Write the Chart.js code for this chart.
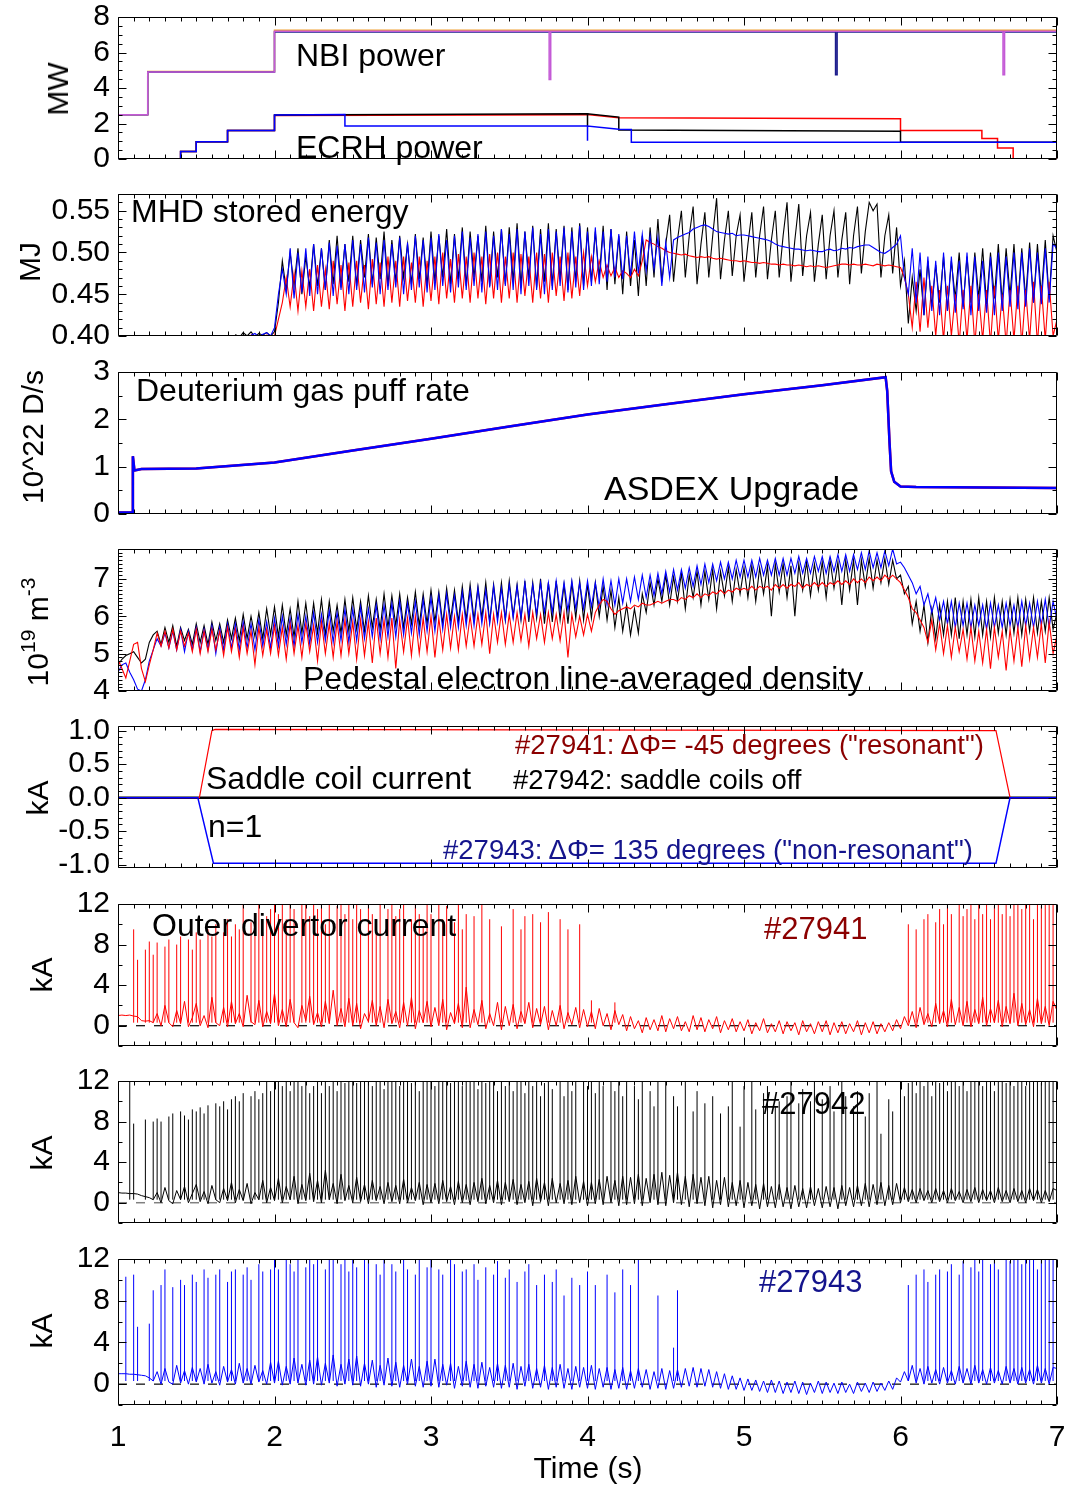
<!DOCTYPE html>
<html>
<head>
<meta charset="utf-8">
<title>ASDEX Upgrade #27941-27943</title>
<script src="https://cdn.jsdelivr.net/npm/chart.js@4.4.1/dist/chart.umd.min.js"></script>
<style>
html,body{margin:0;padding:0;background:#fff;}
body{position:relative;width:1068px;height:1486px;overflow:hidden;font-family:"Liberation Sans",Arial,Helvetica,sans-serif;}
canvas{position:absolute;left:0;}
.lbl{position:absolute;white-space:nowrap;line-height:1;color:#000;transform:translateY(-50%);z-index:5;}
.ytl{position:absolute;white-space:nowrap;line-height:1;color:#000;transform:translate(-50%,-50%) rotate(-90deg);z-index:5;font-size:30px;}
.ytl sup{font-size:21px;vertical-align:baseline;position:relative;top:-13px;}
</style>
</head>
<body>
<div class="lbl" style="left:296px;top:55px;font-size:32px">NBI power</div>
<div class="lbl" style="left:296px;top:147px;font-size:32px">ECRH power</div>
<div class="lbl" style="left:131px;top:211px;font-size:32px">MHD stored energy</div>
<div class="lbl" style="left:136px;top:390px;font-size:32px">Deuterium gas puff rate</div>
<div class="lbl" style="left:604px;top:488px;font-size:34px">ASDEX Upgrade</div>
<div class="lbl" style="left:303px;top:678px;font-size:32px">Pedestal electron line-averaged density</div>
<div class="lbl" style="left:515px;top:745px;font-size:27.5px;color:#8b0000">#27941: ΔΦ= -45 degrees ("resonant")</div>
<div class="lbl" style="left:206px;top:778px;font-size:32px">Saddle coil current</div>
<div class="lbl" style="left:513px;top:780px;font-size:27.5px">#27942: saddle coils off</div>
<div class="lbl" style="left:208px;top:826px;font-size:32px">n=1</div>
<div class="lbl" style="left:443px;top:850px;font-size:27.5px;color:#14148c">#27943: ΔΦ= 135 degrees ("non-resonant")</div>
<div class="lbl" style="left:152px;top:925px;font-size:32px">Outer divertor current</div>
<div class="lbl" style="left:764px;top:928px;font-size:31px;color:#8b0000">#27941</div>
<div class="lbl" style="left:762px;top:1103px;font-size:31px">#27942</div>
<div class="lbl" style="left:759px;top:1281px;font-size:31px;color:#14148c">#27943</div>
<div class="lbl" style="left:588px;top:1468px;font-size:30px;transform:translate(-50%,-50%)">Time (s)</div>

<div class="ytl" style="left:58px;top:89px">MW</div>
<div class="ytl" style="left:30px;top:262px">MJ</div>
<div class="ytl" style="left:33px;top:437px">10^22 D/s</div>
<div class="ytl" style="left:38px;top:632px">10<sup>19</sup> m<sup>-3</sup></div>
<div class="ytl" style="left:38px;top:798px">kA</div>
<div class="ytl" style="left:42px;top:975px">kA</div>
<div class="ytl" style="left:42px;top:1153px">kA</div>
<div class="ytl" style="left:42px;top:1331px">kA</div>

<script>
// ---------------- DATA ----------------
const timeTicks = [1, 2, 3, 4, 5, 6, 7];

// Panel 1: NBI power (MW), step traces
const nbiPurpleT = [1.0, 1.19, 2.0, 3.755, 3.765, 6.655, 6.665, 7.0];
const nbiPurpleV = [2.5, 4.9, 7.2, 4.48, 7.2, 4.74, 7.2, 7.2];
const nbiNavyT = [1.0, 1.19, 2.0, 5.585, 5.595, 7.0];
const nbiNavyV = [2.5, 4.9, 7.15, 4.74, 7.15, 7.15];
const nbiOrangeT = [1.0, 1.19, 2.0, 7.0];
const nbiOrangeV = [2.5, 4.93, 7.25, 7.25];
// Panel 1: ECRH power (MW)
const ecrhRedT = [1.0, 1.40, 1.40, 1.50, 1.50, 1.70, 1.70, 2.00, 2.00, 4.00, 4.20, 6.00, 6.00, 6.52, 6.52, 6.62, 6.62, 6.72, 6.72, 7.0];
const ecrhRedV = [0, 0, 0.42, 0.42, 0.97, 0.97, 1.6, 1.6, 2.45, 2.5, 2.32, 2.27, 1.6, 1.6, 1.15, 1.15, 0.62, 0.62, 0, 0];
const ecrhBlackT = [1.0, 1.40, 1.40, 1.50, 1.50, 1.70, 1.70, 2.00, 2.00, 4.00, 4.00, 4.00, 4.20, 4.20, 6.00, 6.00, 7.0];
const ecrhBlackV = [0, 0, 0.42, 0.42, 0.97, 0.97, 1.6, 1.6, 2.48, 2.55, 1.86, 2.55, 2.36, 1.63, 1.56, 0.94, 0.94];
const ecrhBlueT = [1.0, 1.40, 1.40, 1.50, 1.50, 1.70, 1.70, 2.00, 2.00, 2.45, 2.45, 4.00, 4.00, 4.00, 4.20, 4.28, 4.28, 7.0];
const ecrhBlueV = [0, 0, 0.42, 0.42, 0.97, 0.97, 1.6, 1.6, 2.48, 2.5, 1.86, 1.86, 1.03, 1.86, 1.68, 1.66, 0.94, 0.94];

// Panel 2: MHD stored energy (MJ), samples every 0.025 s from 1.75 s
const wT0 = 1.75, wDT = 0.025;
const wBlack = [
 0.402,0.398,0.404,0.400,0.405,0.399,0.403,0.401,0.404,0.400,
 0.405,0.44,0.49,0.455,0.50,0.46,0.505,0.45,0.495,0.458,
 0.51,0.46,0.505,0.455,0.515,0.462,0.52,0.458,0.51,0.465,
 0.52,0.46,0.515,0.47,0.522,0.462,0.518,0.468,0.525,0.46,
 0.515,0.465,0.52,0.47,0.51,0.462,0.522,0.468,0.518,0.46,
 0.525,0.465,0.52,0.47,0.528,0.462,0.522,0.468,0.53,0.46,
 0.525,0.47,0.52,0.465,0.532,0.46,0.525,0.47,0.528,0.462,
 0.53,0.465,0.535,0.46,0.525,0.47,0.532,0.458,0.528,0.465,
 0.535,0.46,0.528,0.468,0.532,0.455,0.53,0.465,0.535,0.46,
 0.53,0.465,0.525,0.47,0.532,0.455,0.528,0.462,0.52,0.45,
 0.525,0.46,0.515,0.448,0.52,0.46,0.53,0.47,0.54,0.465,
 0.51,0.545,0.465,0.515,0.55,0.47,0.52,0.555,0.462,0.51,
 0.548,0.47,0.52,0.565,0.468,0.515,0.55,0.472,0.52,0.545,
 0.465,0.51,0.548,0.47,0.52,0.555,0.468,0.515,0.55,0.47,
 0.52,0.56,0.465,0.515,0.558,0.472,0.52,0.548,0.465,0.51,
 0.545,0.468,0.52,0.55,0.47,0.515,0.548,0.462,0.52,0.555,
 0.475,0.525,0.56,0.55,0.558,0.47,0.52,0.545,0.475,0.53,
 0.46,0.49,0.415,0.47,0.43,0.48,0.425,0.49,0.435,0.485,
 0.44,0.495,0.43,0.49,0.445,0.5,0.435,0.495,0.44,0.5,
 0.445,0.505,0.438,0.5,0.445,0.51,0.44,0.505,0.448,0.51,
 0.44,0.505,0.445,0.512,0.44,0.51,0.448,0.515,0.445,0.52,0.5];
const wBlue = [
 null,null,null,null,0.401,0.403,0.399,0.402,0.404,0.40,
 0.41,0.45,0.48,0.45,0.505,0.445,0.50,0.452,0.505,0.448,
 0.51,0.45,0.505,0.455,0.512,0.448,0.508,0.455,0.51,0.45,
 0.515,0.455,0.51,0.452,0.518,0.458,0.512,0.45,0.515,0.455,
 0.51,0.458,0.518,0.45,0.512,0.455,0.52,0.458,0.515,0.452,
 0.518,0.455,0.522,0.46,0.515,0.452,0.52,0.458,0.525,0.455,
 0.518,0.46,0.522,0.452,0.525,0.458,0.52,0.455,0.528,0.46,
 0.522,0.455,0.528,0.45,0.525,0.46,0.53,0.455,0.522,0.45,
 0.528,0.455,0.525,0.46,0.53,0.452,0.525,0.458,0.532,0.455,
 0.525,0.46,0.53,0.462,0.525,0.465,0.528,0.47,0.522,0.468,
 0.52,0.472,0.525,0.475,0.522,0.478,0.52,0.48,0.518,0.46,
 0.512,0.47,0.515,0.518,0.52,0.522,0.524,0.528,0.53,0.532,
 0.533,0.531,0.528,0.525,0.524,0.523,0.522,0.523,0.52,0.521,
 0.521,0.52,0.519,0.518,0.517,0.516,0.515,0.513,0.51,0.508,
 0.507,0.506,0.505,0.504,0.504,0.503,0.502,0.503,0.502,0.501,
 0.501,0.503,0.504,0.502,0.503,0.505,0.504,0.506,0.505,0.507,
 0.508,0.509,0.509,0.506,0.503,0.5,0.499,0.502,0.506,0.51,
 0.52,0.47,0.45,0.505,0.44,0.5,0.425,0.495,0.43,0.49,
 0.425,0.5,0.43,0.495,0.428,0.49,0.432,0.5,0.425,0.495,
 0.43,0.49,0.428,0.495,0.425,0.5,0.43,0.495,0.435,0.5,
 0.432,0.5,0.435,0.505,0.44,0.5,0.438,0.505,0.44,0.51,0.505];
const wRed = [
 null,null,null,null,0.402,0.398,0.40,0.399,0.401,0.40,
 0.40,0.42,0.44,0.47,0.435,0.475,0.43,0.478,0.435,0.48,
 0.43,0.485,0.435,0.48,0.432,0.49,0.438,0.485,0.43,0.488,
 0.435,0.49,0.44,0.485,0.432,0.492,0.438,0.488,0.435,0.495,
 0.44,0.49,0.435,0.495,0.442,0.488,0.44,0.495,0.435,0.49,
 0.442,0.495,0.438,0.5,0.445,0.492,0.44,0.498,0.445,0.495,
 0.44,0.5,0.445,0.495,0.438,0.498,0.445,0.5,0.44,0.495,
 0.445,0.5,0.44,0.498,0.448,0.495,0.44,0.5,0.445,0.498,
 0.44,0.5,0.448,0.495,0.442,0.5,0.445,0.495,0.448,0.5,
 0.46,0.495,0.465,0.49,0.47,0.485,0.472,0.482,0.47,0.478,
 0.475,0.47,0.48,0.472,0.49,0.515,0.512,0.51,0.507,0.505,
 0.502,0.5,0.499,0.498,0.497,0.498,0.496,0.495,0.494,0.495,
 0.494,0.495,0.493,0.492,0.493,0.492,0.491,0.49,0.49,0.489,
 0.49,0.489,0.488,0.488,0.487,0.488,0.487,0.486,0.486,0.485,
 0.486,0.485,0.485,0.484,0.485,0.484,0.483,0.484,0.483,0.484,
 0.483,0.482,0.483,0.484,0.485,0.486,0.486,0.485,0.486,0.485,
 0.485,0.486,0.485,0.484,0.486,0.485,0.484,0.485,0.484,0.483,
 0.482,0.47,0.45,0.41,0.465,0.405,0.47,0.41,0.46,0.4,
 0.455,0.395,0.46,0.4,0.45,0.39,0.455,0.395,0.46,0.39,
 0.45,0.395,0.455,0.39,0.46,0.395,0.45,0.39,0.455,0.395,
 0.46,0.39,0.455,0.395,0.465,0.39,0.46,0.395,0.465,0.4,0.42];

// Panel 3: deuterium gas puff rate (10^22 D/s)
const gasT = [1.0,1.09,1.095,1.105,1.15,1.5,2.0,2.5,3.0,3.5,4.0,4.5,5.0,5.5,5.905,5.915,5.93,5.94,5.96,6.0,6.1,7.0];
const gasV = [0.03,0.03,1.22,0.92,0.95,0.96,1.09,1.34,1.59,1.85,2.10,2.32,2.53,2.72,2.89,2.6,1.5,0.9,0.68,0.58,0.57,0.55];

// Panel 4: pedestal line-averaged density (1e19 m^-3), samples every 0.025 s from 1.0 s
const nT0 = 1.0, nDT = 0.025;
const nBlack = [
 4.7,4.85,4.95,5.0,5.05,4.9,4.75,4.85,5.3,5.5,
 5.6,5.25,5.7,5.3,5.75,5.2,5.7,5.35,5.65,5.25,
 5.8,5.3,5.75,5.25,5.85,5.35,5.8,5.3,5.9,5.4,
 5.95,5.35,6.05,5.4,6.0,5.45,6.1,5.4,6.2,5.5,
 6.25,5.45,6.3,5.5,6.2,5.45,6.4,5.55,6.35,5.5,
 6.35,5.55,6.45,5.5,6.4,5.6,6.3,5.55,6.45,5.6,
 6.5,5.65,6.4,5.6,6.55,5.7,6.45,5.65,6.6,5.7,
 6.55,5.75,6.6,5.7,6.5,5.8,6.65,5.75,6.6,5.8,
 6.7,5.85,6.65,5.8,6.75,5.9,6.7,5.85,6.8,5.9,
 6.85,5.9,6.8,5.95,6.9,5.85,6.85,5.95,6.9,5.9,
 6.95,6.0,6.85,5.9,6.95,5.85,6.9,5.95,7.0,5.8,
 6.9,5.85,6.95,5.9,6.85,5.8,6.9,5.95,6.95,5.9,
 6.85,5.95,6.9,6.0,6.8,5.9,6.7,5.7,6.5,5.6,
 6.3,5.5,6.2,5.55,6.6,6.1,6.9,6.3,7.0,6.4,
 7.1,6.3,7.05,6.4,7.15,6.2,7.1,6.5,7.2,6.3,
 7.2,6.45,7.25,6.2,7.2,6.55,7.3,6.4,7.25,6.6,
 7.3,6.5,7.35,6.4,7.3,6.6,7.35,6.0,7.4,6.65,
 7.4,6.5,7.35,6.0,7.4,6.7,7.45,6.55,7.4,6.7,
 7.45,6.5,7.5,6.75,7.45,6.3,7.5,6.7,7.5,6.3,
 7.5,6.8,7.55,6.75,7.5,6.9,7.55,6.85,7.5,7.0,
 7.1,6.6,6.8,5.8,6.4,5.6,6.3,5.3,6.2,5.4,
 6.3,5.5,6.4,5.5,6.5,5.4,6.4,5.5,6.45,5.45,
 6.5,5.5,6.4,5.45,6.5,5.55,6.4,5.5,6.45,5.55,
 6.5,5.5,6.45,5.6,6.5,5.55,6.4,5.6,6.5,5.65,6.1];
const nBlue = [
 4.5,4.7,4.75,4.5,4.3,4.05,4.0,4.3,4.8,5.1,
 5.4,5.2,5.55,5.15,5.6,5.1,5.65,5.05,5.6,5.1,
 5.7,5.05,5.65,5.1,5.75,5.0,5.7,5.1,5.8,5.15,
 5.8,5.1,5.85,5.15,5.8,5.1,5.9,5.2,5.85,5.15,
 5.95,5.2,6.0,5.25,5.95,5.2,6.05,5.3,6.0,5.25,
 6.1,5.3,6.05,5.35,6.15,5.3,6.1,5.35,6.2,5.3,
 6.2,5.35,6.25,5.4,6.2,5.45,6.3,5.4,6.3,5.45,
 6.35,5.45,6.4,5.5,6.35,5.55,6.4,5.5,6.45,5.6,
 6.5,5.6,6.55,5.65,6.6,5.7,6.55,5.7,6.65,5.75,
 6.7,5.75,6.75,5.8,6.7,5.8,6.8,5.85,6.75,5.9,
 6.85,5.95,6.8,5.95,6.9,6.0,6.85,6.05,6.9,6.1,
 6.9,6.1,6.95,6.15,6.9,6.15,6.95,6.2,6.9,6.2,
 6.95,6.25,6.9,6.25,7.0,6.3,6.95,6.3,7.0,6.35,
 7.0,6.4,7.05,6.45,7.1,6.5,7.1,6.55,7.15,6.6,
 7.2,6.65,7.25,6.7,7.25,6.75,7.3,6.8,7.35,6.85,
 7.4,6.9,7.4,6.95,7.45,7.0,7.45,7.0,7.5,7.05,
 7.5,7.05,7.5,7.05,7.55,7.1,7.5,7.1,7.55,7.1,
 7.55,7.1,7.55,7.15,7.6,7.15,7.55,7.15,7.6,7.2,
 7.6,7.15,7.6,7.2,7.65,7.2,7.65,7.2,7.65,7.25,
 7.7,7.25,7.75,7.3,7.7,7.3,7.75,7.35,7.8,7.4,
 7.45,7.3,7.1,6.9,6.6,6.8,6.3,6.6,6.1,6.5,
 5.9,6.4,5.8,6.4,5.7,6.35,5.75,6.35,5.7,6.3,
 5.75,6.3,5.65,6.35,5.7,6.3,5.7,6.35,5.75,6.3,
 5.7,6.4,5.75,6.35,5.7,6.4,5.75,6.45,5.7,6.4,5.9];
const nRed = [
 4.85,4.6,4.35,4.8,5.25,5.3,4.6,4.25,4.7,5.1,
 5.55,5.2,5.6,5.15,5.65,5.1,5.6,5.2,5.55,5.05,
 5.65,5.0,5.6,5.05,5.65,5.1,5.6,4.95,5.7,5.05,
 5.65,4.9,5.7,5.0,5.6,4.7,5.7,4.95,5.65,5.0,
 5.75,4.95,5.7,4.85,5.8,5.0,5.75,4.9,5.8,5.05,
 5.75,4.8,5.85,5.0,5.8,4.9,5.85,4.95,5.9,5.0,
 5.85,4.85,5.9,4.95,5.85,4.75,5.95,5.0,5.9,4.9,
 5.95,4.6,5.9,5.05,5.95,4.95,6.0,5.0,5.95,5.05,
 6.0,4.9,5.95,5.1,6.05,5.15,6.0,5.1,6.05,5.2,
 6.0,5.2,6.05,5.25,6.1,5.0,6.05,5.3,6.1,5.25,
 6.05,5.3,6.1,5.35,6.05,5.2,6.1,5.4,6.05,5.3,
 6.1,5.4,6.05,5.35,6.1,4.9,6.05,5.45,6.0,5.5,
 6.05,5.6,6.1,6.3,6.45,6.4,6.2,6.05,6.15,6.2,
 6.25,6.2,6.3,6.25,6.35,6.3,6.3,6.35,6.4,6.35,
 6.4,6.45,6.45,6.4,6.5,6.45,6.55,6.5,6.6,6.5,
 6.6,6.55,6.65,6.6,6.7,6.6,6.7,6.65,6.75,6.7,
 6.75,6.7,6.8,6.7,6.8,6.75,6.8,6.7,6.85,6.75,
 6.85,6.75,6.85,6.8,6.9,6.75,6.85,6.8,6.9,6.8,
 6.9,6.8,6.9,6.85,6.95,6.85,6.95,6.85,7.0,6.9,
 7.0,6.9,7.05,6.95,7.05,6.95,7.1,7.0,7.1,7.0,
 6.9,6.7,6.5,6.2,6.1,5.9,5.7,5.3,5.9,5.1,
 5.8,5.0,5.75,4.9,5.7,5.05,5.65,4.85,5.7,4.8,
 5.6,4.75,5.65,4.6,5.7,4.9,5.6,4.55,5.65,4.8,
 5.7,4.65,5.75,4.85,5.7,4.9,5.8,4.75,5.85,5.0,5.5];

// Panel 5: saddle coil current (kA)
const coilRedT = [1.0, 1.52, 1.60, 1.62, 6.61, 6.70, 7.0];
const coilRedV = [0, 0, 1.0, 1.02, 1.0, 0, 0];
const coilBlueT = [1.0, 1.51, 1.61, 6.61, 6.70, 7.0];
const coilBlueV = [0, 0, -0.98, -0.98, 0, 0];
const coilBlackT = [1.0, 7.0];
const coilBlackV = [0, 0];

// Panels 6-8: outer divertor current (kA)
// background level every 0.025 s from 1.0 s
const dT0 = 1.0, dDT = 0.025;
const div41Base = [
 1.0,1.05,1.0,1.05,0.95,0.9,0.5,0.45,0.5,0.3,
 1.2,0.0,2.0,0.3,-0.1,1.5,0.2,2.4,-0.1,0.8,
 2.2,0.0,1.0,-0.2,2.8,0.3,0.0,1.8,-0.1,2.4,
 0.2,1.2,-0.1,3.0,0.4,0.1,2.5,-0.1,1.4,0.2,
 3.2,0.0,1.6,-0.1,2.6,0.3,-0.2,2.0,0.5,2.9,
 0.1,1.3,-0.1,2.4,0.2,3.5,0.0,1.7,-0.1,2.7,
 0.0,2.2,-0.3,1.2,0.4,2.5,0.0,1.9,-0.2,2.6,
 0.2,1.4,-0.2,2.3,0.0,2.8,-0.3,1.5,0.3,2.4,
 -0.1,1.8,0.0,2.6,-0.4,1.3,0.2,2.2,-0.2,3.8,
 -0.2,1.6,0.1,2.5,-0.3,1.2,0.0,2.3,-0.4,1.9,
 0.0,2.1,-0.3,1.4,0.2,2.3,-0.2,1.7,0.1,1.9,
 -0.4,1.5,0.0,2.0,-0.3,1.3,0.1,1.8,-0.2,1.6,
 -0.1,1.4,-0.3,1.7,0.0,1.2,-0.4,1.5,0.1,1.1,
 -0.5,0.9,-0.3,0.5,-0.7,0.8,-0.4,0.6,-0.5,1.0,
 -0.6,0.7,-0.3,0.9,-0.5,0.4,-0.6,1.0,-0.4,0.8,
 -0.6,0.6,-0.3,0.9,-0.7,0.5,-0.4,0.7,-0.6,0.4,
 -0.5,0.6,-0.8,0.3,-0.5,0.7,-0.7,0.2,-0.6,0.5,
 -0.8,0.4,-0.5,0.3,-0.9,0.5,-0.6,0.2,-0.8,0.4,
 -0.6,0.5,-0.9,0.3,-0.7,0.4,-0.8,0.2,-0.6,0.5,
 -0.9,0.3,-0.7,0.4,-0.8,0.2,-0.6,0.3,-0.5,0.6,
 -0.3,0.9,0.0,1.4,-0.2,1.8,0.1,1.2,-0.1,2.2,
 0.2,1.5,-0.1,2.6,0.1,1.8,0.0,2.4,-0.1,1.6,
 0.2,2.8,0.0,1.7,0.3,2.5,-0.1,1.9,0.2,3.2,
 0.0,2.2,0.1,1.6,-0.1,2.7,0.2,1.9,0.0,2.4,1.5];
const div42Base = [
 1.0,0.95,0.95,0.9,0.9,0.85,0.7,0.6,0.5,0.3,
 1.0,0.0,1.5,0.2,-0.1,1.2,0.3,1.6,0.0,0.9,
 1.8,0.1,1.1,-0.1,1.7,0.3,0.0,1.4,0.2,2.0,
 0.0,1.3,0.2,1.9,-0.1,1.0,0.3,2.2,0.0,1.5,
 0.2,2.4,0.0,1.6,0.3,2.6,-0.1,1.8,0.2,2.9,
 0.1,2.2,0.0,3.2,0.3,1.9,-0.1,2.8,0.2,1.7,
 0.0,2.5,0.1,1.8,-0.1,2.2,0.2,1.6,-0.1,2.0,
 0.1,1.7,-0.1,2.3,0.0,1.5,0.2,2.0,-0.2,1.8,
 0.0,1.9,-0.1,2.2,0.1,1.6,-0.2,2.1,0.0,1.8,
 -0.2,2.0,0.1,2.4,-0.1,1.7,0.0,2.2,-0.2,2.0,
 0.1,2.3,-0.2,1.8,0.0,2.1,-0.3,2.4,0.1,2.0,
 -0.3,2.4,0.0,1.9,-0.1,2.2,-0.2,2.6,0.0,2.1,
 -0.3,2.0,-0.1,2.3,-0.2,2.6,0.0,2.2,-0.3,2.6,
 -0.2,2.5,-0.1,2.8,-0.3,2.4,0.0,2.8,-0.2,3.0,
 -0.3,2.7,0.0,3.0,-0.2,2.6,-0.4,2.8,-0.1,2.5,
 -0.3,2.6,-0.5,2.2,-0.2,2.5,-0.4,2.0,-0.3,2.2,
 -0.5,2.0,-0.3,1.8,-0.6,1.9,-0.4,1.6,-0.5,1.8,
 -0.4,1.5,-0.6,1.7,-0.4,1.4,-0.5,1.6,-0.3,1.4,
 -0.5,1.6,-0.4,1.5,-0.6,1.7,-0.3,1.5,-0.4,1.7,
 -0.3,1.9,-0.4,1.8,-0.2,2.0,-0.3,1.7,-0.2,1.9,
 0.0,1.5,0.1,1.3,0.0,1.4,0.2,1.2,0.0,1.4,
 0.1,1.2,0.0,1.4,0.2,1.1,0.0,1.3,0.1,1.5,
 0.0,1.3,0.2,1.2,0.0,1.5,0.1,1.2,0.0,1.4,
 0.1,1.2,0.0,1.4,0.2,1.3,0.0,1.2,0.1,1.4,1.2];
const div43Base = [
 1.0,1.0,1.0,0.95,0.95,0.9,0.85,0.8,0.6,0.3,
 1.2,0.0,1.5,0.2,0.0,1.8,0.1,1.3,0.0,1.6,
 0.2,1.5,0.0,1.9,0.1,1.2,-0.1,1.7,0.2,1.4,
 0.0,2.0,0.1,1.5,0.0,1.8,0.2,1.3,0.0,2.1,
 0.1,2.2,-0.1,1.7,0.0,2.5,0.1,1.9,-0.1,2.3,
 0.0,2.6,-0.1,2.0,0.1,2.8,-0.2,1.9,0.0,2.4,
 -0.1,2.7,-0.2,2.0,0.0,2.3,-0.3,1.8,-0.1,2.5,
 -0.2,2.1,-0.3,1.8,0.0,2.4,-0.2,1.7,-0.3,2.2,
 -0.2,2.4,-0.3,1.9,-0.1,2.0,-0.4,1.7,-0.2,2.2,
 -0.3,1.9,-0.4,2.1,-0.2,1.6,-0.3,2.0,-0.4,1.8,
 -0.3,2.0,-0.5,1.7,-0.2,1.9,-0.4,1.5,-0.3,1.8,
 -0.5,1.6,-0.3,1.9,-0.4,1.5,-0.5,1.7,-0.3,1.6,
 -0.4,1.8,-0.5,1.5,-0.3,1.6,-0.5,1.4,-0.4,1.6,
 -0.5,1.3,-0.4,1.5,-0.3,1.4,-0.5,1.2,-0.4,1.5,
 -0.5,1.3,-0.4,1.4,-0.3,1.5,-0.2,1.6,-0.3,1.5,
 -0.2,1.4,-0.3,1.2,-0.4,1.0,-0.5,0.8,-0.5,0.6,
 -0.6,0.5,-0.6,0.4,-0.7,0.3,-0.8,0.4,-0.8,0.3,
 -0.9,0.2,-0.8,0.3,-0.9,0.2,-1.0,0.1,-0.8,0.3,
 -0.9,0.2,-0.8,0.1,-0.9,0.2,-0.8,0.0,-0.9,0.2,
 -0.7,0.1,-0.8,0.2,-0.7,0.1,-0.6,0.3,-0.5,0.6,
 0.2,1.2,0.3,1.8,0.1,1.5,0.0,1.7,0.1,1.4,
 0.0,1.6,0.1,1.3,0.0,1.7,0.1,1.5,0.0,1.8,
 0.1,1.4,0.0,1.6,0.1,1.3,0.0,1.7,0.1,1.5,
 0.0,1.6,0.1,1.4,0.0,1.8,0.1,1.5,0.0,1.6,1.5];
// ELM spike peaks, one slot per 0.025 s from 1.0 s (0 = no ELM)
const eT0 = 1.0, eDT = 0.025;
const elm41 = [
 8.5,0,0,0,9.5,6.5,0,7.5,8.3,7.0,   8.2,0,7.8,8.5,0,8.0,8.8,0,8.5,7.5,
 9.2,8.5,0,9.5,8.8,10,0,9.2,10.5,8.8, 10,9.5,12.5,0,10.2,9.8,12.5,9.2,10.8,11.5,
 12.5,11,12.5,10.5,12.5,11.5,0,12.5,12,10.8, 12.5,11.5,12.5,10,12.5,0,11.8,12.5,11,12.5,
 10.5,12.5,11.5,0,12.5,11,10.2,12.5,0,11.5, 12.5,10.8,11.5,12.5,0,10.5,12,11,9.8,12.5,
 11,0,12.5,10.5,11.8,0,10.2,12.5,9.5,11, 0,10.8,0,12,0,10.5,0,0,9.8,0,
 0,11.5,0,9.5,10.8,0,11,0,10.2,0, 11.2,0,0,10.5,0,9.5,0,0,10,0,
 0,2.5,0,0,0,0,0,2.3,0,0, 0,0,0,0,0,0,0,0,0,0,
 0,0,0,0,0,0,0,0,0,0, 0,0,0,0,0,0,0,0,0,0,
 0,0,0,0,0,0,0,0,0,0, 0,0,0,0,0,0,0,0,0,0,
 0,0,0,0,0,0,0,0,0,0, 0,0,0,0,0,0,0,0,0,0,
 0,0,10,0,9.5,0,10.5,11,0,10.2, 11.5,10,12,11,0,12.5,10.8,11.5,12.5,10.5,
 12,11,12.5,10.5,11.8,12.5,11,12.5,10.8,12, 12.5,11.5,12,12.5,10.5,12.5,11.8,12.5,12,12.5];
const elm42 = [
 0,0,0,12.5,7.8,0,0,8.2,0,8.0,   8.3,8.0,0,8.5,8.8,0,9.0,8.6,8.2,9.2,
 9.0,9.4,8.8,9.6,0,9.8,9.5,10,9.2,10.2, 10.5,10,10.8,0,10.5,11,10.2,10.8,12.5,11,
 12.5,12.5,11.5,12.5,11,12.5,12,11.5,12.5,10.8, 11.5,12,10.8,12.5,11.5,12.2,11,12.5,11.8,12.5,
 12.5,11.8,12.5,12,12.5,11.5,12.5,12.5,11.2,12.5, 12.5,12,11.5,12.5,12.5,11.8,12.5,11,12.5,12.5,
 12.5,11.5,12.5,12,12.5,11.8,12.5,12.2,11.5,12.5, 12,12.5,11.2,12.5,11.8,12.5,12,11,12.5,11.5,
 12.5,11,12.2,12.5,10.8,12,11.5,12.5,10.5,11.8, 12.5,11.2,0,12,10.5,12.5,11,12,0,12.5,
 11.5,12.5,10.8,12.2,11.5,0,12.5,11,12.5,10.5, 12,0,11.5,10.2,12.5,0,11,9.5,12,0,
 12.5,0,10.5,9.5,0,12.5,0,9,11,0, 9.8,0,10.5,0,8.8,0,9.5,12,0,7.5,
 11.5,0,12.5,9.2,0,10.8,11.5,0,9.5,10, 0,10.5,12,0,9.8,11.2,0,10,12.5,0,
 10.2,0,11.5,9,0,12.2,10.5,0,9.5,11, 0,8.5,10.8,0,12.5,6.8,0,10.2,9,0,
 12.5,10.5,11.8,12.5,10.8,12,11.5,12.5,10.5,12.2, 11.8,12.5,11,12.5,12,11.5,12.5,11,12.5,12,
 12.5,11.5,12.5,12,11,12.5,12.2,11.8,12.5,11.5, 12.5,12,11.5,12.5,12,12.5,11.8,12.5,12,12.5];
const elm43 = [
 0,0,10.3,0,10.5,5.5,0,0,5.8,9.0,   0,9.5,11,0,9.3,0,10,9.5,0,10.5,
 9.8,0,11,10.2,0,10.5,11,0,9.8,10.8, 11,0,10.5,11.2,10,0,11.5,10.8,0,11,
 12.5,11,0,12.5,11.5,10.8,12.5,0,11.2,12.5, 11.5,12.5,0,11,12.5,12,0,11.5,12.5,10.8,
 12.5,11.2,0,12,12.5,0,11.5,10.5,12.5,0, 11.5,10.8,0,12,11,0,10.5,12.5,0,11.2,
 12.5,0,11,10.5,0,12,11.5,0,10.8,11, 0,11.5,10,0,11.2,0,10.5,11.8,0,10.2,
 11,0,9.8,0,10.8,11.5,0,9.5,0,10.5, 0,9.8,11,0,8.5,0,10.2,0,9.5,0,
 10.8,0,9.5,0,0,10.5,0,8.8,0,11, 0,9.5,0,12.5,0,0,0,0,8.5,0,
 0,0,3.5,9.0,0,0,0,0,0,0, 0,0,0,0,0,0,0,0,0,0,
 0,0,0,0,0,0,0,0,0,0, 0,0,0,0,0,0,0,0,0,0,
 0,0,0,0,0,0,0,0,0,0, 0,0,0,0,0,0,0,0,0,0,
 0,0,9.5,0,10.5,0,11,9.8,0,10.5, 11,0,10.8,11.5,0,10.5,11.8,0,11.2,12,
 10.8,12,0,11.5,12.5,11,0,12.5,11.8,12.5, 12.5,11.5,12.5,12,12.5,11,12.5,12.5,12,12.5];
const zeroT = [1.0, 7.0];
const zeroV = [0, 0];

// Axis tick values
const p1Ticks = [0, 2, 4, 6, 8];
const p2Ticks = [0.40, 0.45, 0.50, 0.55];
const p3Ticks = [0, 1, 2, 3];
const p4Ticks = [4, 5, 6, 7];
const p5Ticks = [-1.0, -0.5, 0.0, 0.5, 1.0];
const pDivTicks = [0, 4, 8, 12];

// ---------------- BUILD ----------------
const FONT = "'Liberation Sans', Arial, Helvetica, sans-serif";
Chart.defaults.font.family = FONT;
const RED = '#ff0000', BLUE = '#0000ff', BLACK = '#000000';

const pts = (ts, vs) => ts.map((t, i) => ({ x: t, y: vs[i] }));
const grid = (t0, dt, vs) => vs.map((v, i) => ({ x: +(t0 + i * dt).toFixed(4), y: v }));
function spikes(t0, dt, hs, base) {
  const out = [];
  hs.forEach((h, i) => {
    if (h > 0) {
      const t = +(t0 + i * dt).toFixed(4);
      out.push({ x: t, y: base }, { x: t, y: h }, { x: t, y: null });
    }
  });
  return out;
}
function ds(data, color, width, order, extra) {
  return Object.assign({ data, borderColor: color, backgroundColor: color, borderWidth: width,
    pointRadius: 0, fill: false, tension: 0, order, spanGaps: false }, extra || {});
}

function framePlugin(cfg) {
  return {
    id: 'frame',
    afterDatasetsDraw(chart) {
      const { ctx, chartArea: a } = chart;
      const xs = chart.scales.x, ys = chart.scales.y;
      const L = Math.round(a.left) + 0.5, R = Math.round(a.right) - 0.5;
      const T = Math.round(a.top) + 0.5, B = Math.round(a.bottom) - 0.5;
      ctx.save();
      ctx.strokeStyle = '#000';
      ctx.lineWidth = 1;
      ctx.beginPath();
      ctx.rect(L, T, R - L, B - T);
      const nx = 60;
      for (let k = 0; k <= nx; k++) {
        const p = Math.round(xs.getPixelForValue(1 + k * 0.1)) + 0.5;
        const len = (k % 10 === 0) ? 8 : 4;
        ctx.moveTo(p, B); ctx.lineTo(p, B - len);
        ctx.moveTo(p, T); ctx.lineTo(p, T + len);
      }
      const ny = Math.round((cfg.minorMax - cfg.minorMin) / cfg.minor);
      for (let k = 0; k <= ny; k++) {
        const v = cfg.minorMin + k * cfg.minor;
        const major = cfg.ticks.some(t => Math.abs(t - v) < 1e-6);
        const p = Math.round(ys.getPixelForValue(v)) + 0.5;
        const len = major ? 8 : 4;
        ctx.moveTo(L, p); ctx.lineTo(L + len, p);
        ctx.moveTo(R, p); ctx.lineTo(R - len, p);
      }
      ctx.stroke();
      ctx.restore();
    }
  };
}

function makePanel(top, cfg, datasets, showX) {
  showX = !!showX;
  const padTop = 22;
  const canvas = document.createElement('canvas');
  const h = showX ? (1486 - (top - padTop)) : (150 + 2 * padTop);
  canvas.width = 1068; canvas.height = h;
  canvas.style.width = '1068px'; canvas.style.height = h + 'px';
  canvas.style.top = (top - padTop) + 'px';
  document.body.appendChild(canvas);
  const tickFont = { family: FONT, size: 30 };
  return new Chart(canvas, {
    type: 'line',
    data: { datasets },
    options: {
      responsive: false, animation: false, devicePixelRatio: 1,
      events: [],
      layout: { padding: { left: 0, right: 11, top: padTop, bottom: showX ? 0 : padTop } },
      plugins: { legend: { display: false }, tooltip: { enabled: false } },
      scales: {
        x: {
          type: 'linear', min: 1, max: 7, display: showX,
          grid: { display: false, drawTicks: false }, border: { display: false },
          afterBuildTicks: s => { s.ticks = timeTicks.map(v => ({ value: v })); },
          afterFit: s => { s.paddingLeft = 0; s.paddingRight = 0; if (showX) s.height = h - padTop - 150; },
          ticks: { font: tickFont, color: '#000', padding: 15, maxRotation: 0, autoSkip: false }
        },
        y: {
          type: 'linear', min: cfg.min, max: cfg.max,
          grid: { display: false, drawTicks: false }, border: { display: false },
          afterBuildTicks: s => { s.ticks = cfg.ticks.map(v => ({ value: v })); },
          afterFit: s => { s.width = 118; },
          ticks: { font: tickFont, color: '#000', padding: 8, autoSkip: false, callback: v => cfg.fmt(v) }
        }
      }
    },
    plugins: [framePlugin(cfg)]
  });
}

const TOPS = [13, 190, 368, 545, 722, 900, 1077, 1255];
const f0 = v => String(v), f1 = v => v.toFixed(1), f2 = v => v.toFixed(2);

// Panel 1
makePanel(TOPS[0], { min: 0, max: 8, ticks: p1Ticks, minor: 0.5, minorMin: 0, minorMax: 8, fmt: f0 }, [
  ds(pts(nbiOrangeT, nbiOrangeV), '#f0a030', 1.5, 6, { stepped: 'before' }),
  ds(pts(nbiNavyT, nbiNavyV), '#1c1c8c', 1.5, 5, { stepped: 'before' }),
  ds(pts(nbiPurpleT, nbiPurpleV), '#c45ad6', 1.5, 4, { stepped: 'before' }),
  ds(pts(ecrhRedT, ecrhRedV), RED, 1.5, 3),
  ds(pts(ecrhBlackT, ecrhBlackV), BLACK, 1.5, 2),
  ds(pts(ecrhBlueT, ecrhBlueV), BLUE, 1.5, 1)
]);
// Panel 2
makePanel(TOPS[1], { min: 0.40, max: 0.57, ticks: p2Ticks, minor: 0.01, minorMin: 0.40, minorMax: 0.57, fmt: f2 }, [
  ds(grid(wT0, wDT, wBlack), BLACK, 1.1, 3),
  ds(grid(wT0, wDT, wRed), RED, 1.1, 2),
  ds(grid(wT0, wDT, wBlue), BLUE, 1.1, 1)
]);
// Panel 3
makePanel(TOPS[2], { min: 0, max: 3, ticks: p3Ticks, minor: 0.5, minorMin: 0, minorMax: 3, fmt: f0 }, [
  ds(pts(gasT, gasV), RED, 2.5, 2),
  ds(pts(gasT, gasV), BLUE, 2.5, 1)
]);
// Panel 4
makePanel(TOPS[3], { min: 4, max: 7.8, ticks: p4Ticks, minor: 0.1, minorMin: 4, minorMax: 7.8, fmt: f0 }, [
  ds(grid(nT0, nDT, nBlack), BLACK, 1.1, 3),
  ds(grid(nT0, nDT, nBlue), BLUE, 1.1, 2),
  ds(grid(nT0, nDT, nRed), RED, 1.1, 1)
]);
// Panel 5
makePanel(TOPS[4], { min: -1.05, max: 1.07, ticks: p5Ticks, minor: 0.1, minorMin: -1.0, minorMax: 1.0, fmt: f1 }, [
  ds(pts(coilBlackT, coilBlackV), BLACK, 2.5, 3),
  ds(pts(coilRedT, coilRedV), RED, 1.2, 2),
  ds(pts(coilBlueT, coilBlueV), BLUE, 1.5, 1)
]);
// Panels 6-8
const divCfg = { min: -2, max: 12, ticks: pDivTicks, minor: 2, minorMin: -2, minorMax: 12, fmt: f0 };
makePanel(TOPS[5], divCfg, [
  ds(pts(zeroT, zeroV), BLACK, 1.2, 3, { borderDash: [9, 9] }),
  ds(grid(dT0, dDT, div41Base), RED, 1, 2),
  ds(spikes(eT0, eDT, elm41, 0.3), RED, 1, 1)
]);
makePanel(TOPS[6], divCfg, [
  ds(pts(zeroT, zeroV), '#808080', 1.5, 3, { borderDash: [9, 9] }),
  ds(grid(dT0, dDT, div42Base), BLACK, 1, 2),
  ds(spikes(eT0, eDT, elm42, 0.3), BLACK, 1, 1)
]);
makePanel(TOPS[7], divCfg, [
  ds(pts(zeroT, zeroV), BLACK, 1.2, 3, { borderDash: [9, 9] }),
  ds(grid(dT0, dDT, div43Base), BLUE, 1, 2),
  ds(spikes(eT0, eDT, elm43, 0.3), BLUE, 1, 1)
], true);
</script>
</body>
</html>
